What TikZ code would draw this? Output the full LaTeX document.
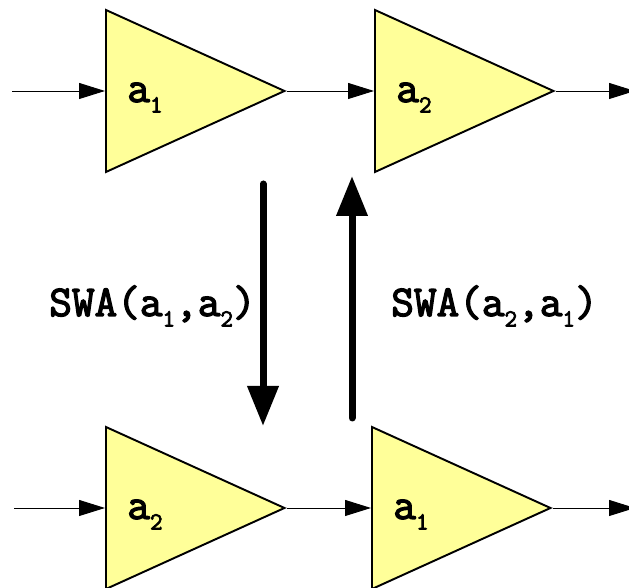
\documentclass[tikz,border=0pt]{standalone}
\usepackage{xcolor}
\usepackage{fontspec}
\newfontfamily\ampfont[FakeBold=3]{Latin Modern Mono}
\usepackage{tikz}
\usetikzlibrary{shapes.geometric, arrows.meta, positioning}
\definecolor{ampyellow}{RGB}{255,255,153}
\newcommand{\subidx}[1]{\raisebox{-6pt}{\fontsize{14}{14}\selectfont #1}}
\tikzset{
  amp/.style={isosceles triangle, isosceles triangle apex angle=48.7, isosceles triangle stretches,
    draw=black, fill=ampyellow, minimum width=3.24cm, minimum height=3.57cm,
    inner sep=0pt, line width=1.1pt, anchor=lower side},
  amplabel/.style={font=\ampfont\fontsize{25}{25}\selectfont, inner sep=0pt, anchor=base west},
  wire/.style={-{Triangle[length=0.52cm,width=0.32cm]}, line width=0.55pt, color=black},
  swaparrow/.style={-{Triangle[length=0.8cm,width=0.6cm]}, line width=1.4mm, line cap=round, color=black}
}
\begin{document}
\begin{tikzpicture}
  \useasboundingbox (0,0) rectangle (12.58,11.76);

  % Top row
  \node[amp] (top1) at (2.10,9.94) {};
  \node[amp] (top2) at (7.48,9.94) {};
  \node[amplabel] (toplab1) at (2.54,9.72) {a\subidx{1}};
  \node[amplabel] (toplab2) at (7.92,9.72) {a\subidx{2}};
  \coordinate (topin) at (0.24,9.94);
  \coordinate (topout) at (12.70,9.94);

  % Bottom row
  \node[amp] (bot1) at (2.10,1.60) {};
  \node[amp] (bot2) at (7.42,1.60) {};
  \node[amplabel] (botlab1) at (2.54,1.38) {a\subidx{2}};
  \node[amplabel] (botlab2) at (7.86,1.38) {a\subidx{1}};
  \coordinate (botin) at (0.28,1.60);
  \coordinate (botout) at (12.70,1.60);

  % Signal arrows
  \draw[wire] (topin) -- (top1.lower side);
  \draw[wire] (top1.apex) -- (top2.lower side);
  \draw[wire] (top2.apex) -- (topout);
  \draw[wire] (botin) -- (bot1.lower side);
  \draw[wire] (bot1.apex) -- (bot2.lower side);
  \draw[wire] (bot2.apex) -- (botout);

  % Swap arrows
  \coordinate (downtop) at (5.26,8.08);
  \coordinate (downbot) at (5.26,3.24);
  \coordinate (upbot) at (7.04,3.40);
  \coordinate (uptop) at (7.04,8.24);
  \draw[swaparrow] (downtop) -- (downbot);
  \draw[swaparrow] (upbot) -- (uptop);

  % Labels
  \node[amplabel] (swa12) at (0.98,5.44) {SWA(a\subidx{1},a\subidx{2})};
  \node[amplabel] (swa21) at (7.82,5.44) {SWA(a\subidx{2},a\subidx{1})};
\end{tikzpicture}
\end{document}
